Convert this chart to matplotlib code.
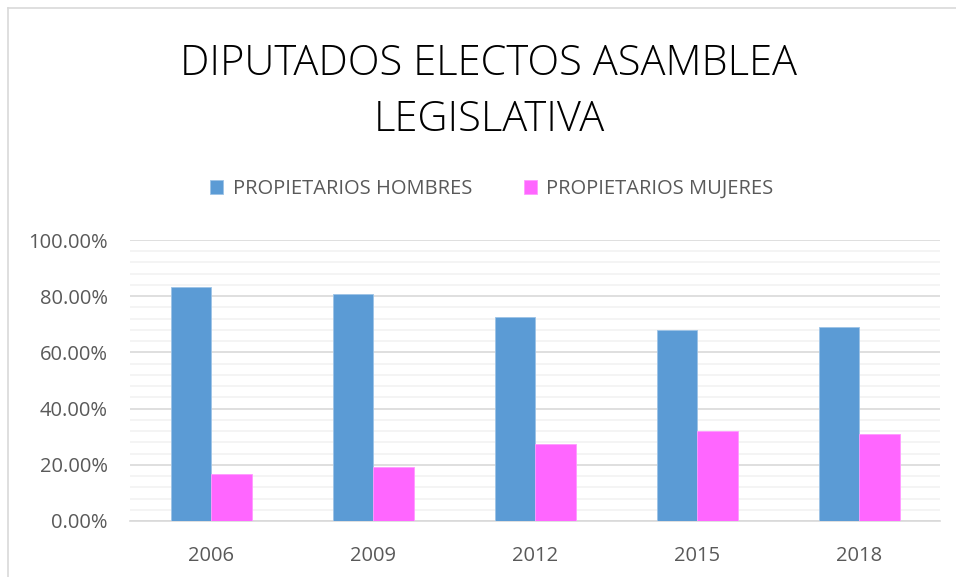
import numpy as np
import matplotlib.pyplot as plt
from matplotlib.lines import Line2D
from matplotlib.ticker import MultipleLocator, FuncFormatter

years = ["2006", "2009", "2012", "2015", "2018"]
hombres = [83.33, 80.95, 72.6, 68.0, 69.0]
mujeres = [16.67, 19.05, 27.4, 32.0, 31.0]
series_names = ["PROPIETARIOS HOMBRES", "PROPIETARIOS MUJERES"]
title_lines = ["DIPUTADOS ELECTOS ASAMBLEA", "LEGISLATIVA"]

BLUE = "#5B9BD5"
PINK = "#FF66FF"
TXT = "#595959"

plt.rcParams['font.family'] = ['Open Sans', 'DejaVu Sans']

W, H = 956, 577
fig = plt.figure(figsize=(W / 100, H / 100), dpi=100)
ax = fig.add_axes([130 / W, 1 - 521 / H, 810 / W, 281 / H])

x = np.arange(len(years))
bw = 0.25
ax.bar(x - bw / 2, hombres, bw, color=BLUE, edgecolor="#9DC3E6", linewidth=0.6,
       label=series_names[0], zorder=3)
ax.bar(x + bw / 2, mujeres, bw, color=PINK, edgecolor="#FF99FF", linewidth=0.6,
       label=series_names[1], zorder=3)

ax.set_xlim(-0.5, len(years) - 0.5)
ax.set_ylim(0, 100)
ax.yaxis.set_major_locator(MultipleLocator(20))
ax.yaxis.set_minor_locator(MultipleLocator(4))
ax.yaxis.set_major_formatter(FuncFormatter(lambda v, p: f"{v:.2f}%"))
ax.grid(axis='y', which='major', color="#D9D9D9", linewidth=1.2, zorder=0)
ax.grid(axis='y', which='minor', color="#F2F2F2", linewidth=1.2, zorder=0)
ax.set_axisbelow(True)

ax.set_xticks(x)
ax.set_xticklabels(years)
ax.tick_params(axis='both', which='both', length=0, colors=TXT, labelsize=14.5)
ax.tick_params(axis='y', pad=16)
ax.tick_params(axis='x', pad=18)
for s in ['top', 'right', 'left']:
    ax.spines[s].set_visible(False)
ax.spines['bottom'].set_color("#D9D9D9")
ax.spines['bottom'].set_linewidth(1.2)

fig.text(489 / W, 1 - 64 / H, title_lines[0], ha='center', va='center',
         fontsize=30, fontweight='light', color='black')
fig.text(489 / W, 1 - 120 / H, title_lines[1], ha='center', va='center',
         fontsize=30, fontweight='light', color='black')

fig.legend(loc='center', bbox_to_anchor=(492 / W, 1 - 189 / H), ncol=2,
           frameon=False, fontsize=14.5, labelcolor=TXT, handlelength=0.65,
           handleheight=0.65, handletextpad=0.45, columnspacing=2.6)

# chart-area border (top and left visible in the crop)
fig.add_artist(Line2D([8 / W, 8 / W], [0, 1 - 8 / H], transform=fig.transFigure,
                      color="#D9D9D9", linewidth=1.2))
fig.add_artist(Line2D([8 / W, 1], [1 - 8 / H, 1 - 8 / H], transform=fig.transFigure,
                      color="#D9D9D9", linewidth=1.2))

fig.savefig("out.png", dpi=100)
